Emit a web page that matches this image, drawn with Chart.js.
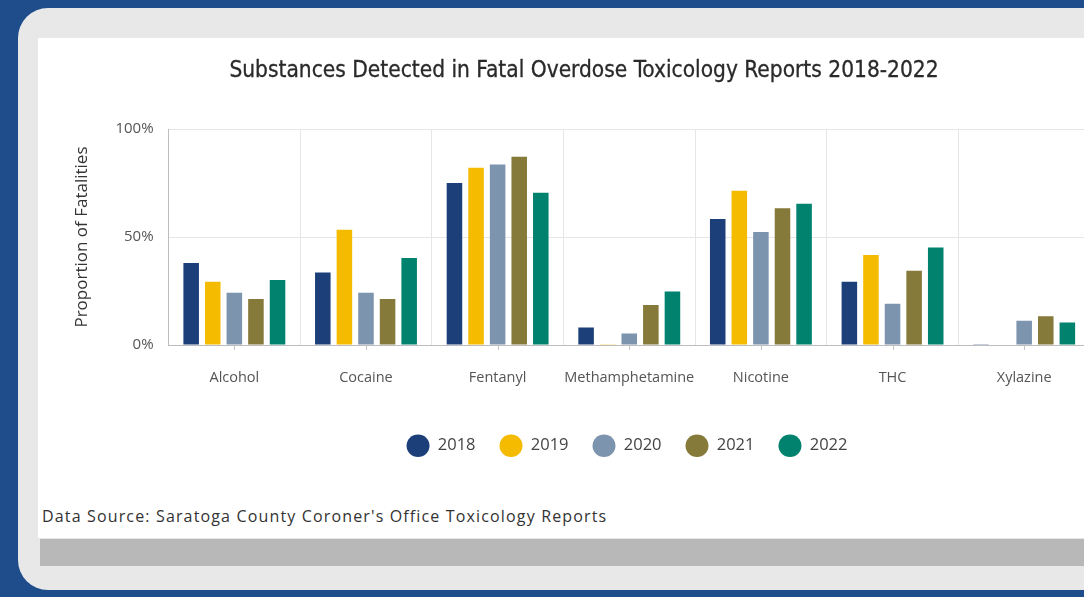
<!DOCTYPE html>
<html>
<head>
<meta charset="utf-8">
<script src="https://cdn.jsdelivr.net/npm/chart.js@4.4.1/dist/chart.umd.min.js"></script>
<style>
  html, body { margin: 0; padding: 0; }
  body { width: 1084px; height: 597px; overflow: hidden; background: #1f4d8c; position: relative; font-family: "Open Sans", sans-serif; }
  .card { position: absolute; left: 18px; top: 8px; width: 1120px; height: 582px; background: #e8e8e8; border-radius: 30px; }
  .panel { position: absolute; left: 38px; top: 38px; width: 1060px; height: 500px; background: #fff; overflow: hidden; }
  .title { position: absolute; left: 0; top: 56px; width: 1168px; text-align: center; font-family: "DejaVu Sans Condensed", "DejaVu Sans", sans-serif; font-size: 22.5px; color: #2a2a2a; -webkit-text-stroke: 0.3px #2a2a2a; }
  .source { position: absolute; left: 42px; top: 505px; font-size: 16px; letter-spacing: 1.15px; color: #333; }
  .scroll { position: absolute; left: 40px; top: 539px; width: 1060px; height: 27px; background: #b8b8b8; }
  #wrap { position: absolute; left: 0; top: 0; width: 1178px; height: 426px; }
</style>
</head>
<body>
<div class="card"></div>
<div class="panel">
  <div id="wrap"><canvas id="chart"></canvas></div>
</div>
<div class="title">Substances Detected in Fatal Overdose Toxicology Reports 2018-2022</div>
<div class="source">Data Source: Saratoga County Coroner's Office Toxicology Reports</div>
<div class="scroll"></div>
<script>
/* данные */
const categories = ['Alcohol', 'Cocaine', 'Fentanyl', 'Methamphetamine', 'Nicotine', 'THC', 'Xylazine']
const years = ['2018', '2019', '2020', '2021', '2022']
const colors = ['#1c3f7a', '#f5bb00', '#7d94ae', '#857a3a', '#00826e']
const v2018 = [38, 33.6, 75, 8.2, 58.3, 29.3, 0.4]
const v2019 = [29.3, 53.4, 82.1, 0.4, 71.4, 41.7, 0.3]
const v2020 = [24.2, 24.2, 83.6, 5.4, 52.3, 19.1, 11.3]
const v2021 = [21.3, 21.3, 87.2, 18.5, 63.3, 34.4, 13.4]
const v2022 = [30.1, 40.3, 70.5, 24.8, 65.4, 45.2, 10.5]
const yTicks = [0, 50, 100]

const series = [v2018, v2019, v2020, v2021, v2022]

// разрядка букв на канвасе
const spacing = {
  id: 'spacing',
  beforeInit: (chart) => { chart.ctx.letterSpacing = '1.2px' },
}

// короткие засечки под осью X по центру категорий
const centerTicks = {
  id: 'centerTicks',
  afterDraw: (chart) => {
    const { ctx, scales: { x } } = chart
    ctx.save()
    ctx.strokeStyle = '#c4c4c4'
    ctx.lineWidth = 1
    x.ticks.forEach((t, i) => {
      const px = Math.round(x.getPixelForTick(i)) + 0.5
      ctx.beginPath()
      ctx.moveTo(px, x.top)
      ctx.lineTo(px, x.top + 5)
      ctx.stroke()
    })
    ctx.restore()
  },
}

new Chart(document.getElementById('chart'), {
  type: 'bar',
  data: {
    labels: categories,
    datasets: years.map((y, i) => ({
      label: y,
      data: series[i],
      backgroundColor: colors[i],
      borderWidth: 0,
      categoryPercentage: 0.82,
      barPercentage: 0.72,
    })),
  },
  options: {
    responsive: true,
    maintainAspectRatio: false,
    animation: false,
    layout: { padding: { top: 91 } },
    scales: {
      x: {
        grid: { color: '#e6e6e6', offset: true, drawTicks: false },
        border: { color: '#bdbdbd' },
        ticks: {
          color: '#555',
          padding: 24,
          maxRotation: 0,
          autoSkip: false,
          font: { family: 'Open Sans', size: 14.5 },
        },
        afterFit: (axis) => { axis.height += 3 },
      },
      y: {
        min: 0,
        max: 100,
        afterBuildTicks: (axis) => { axis.ticks = yTicks.map(v => ({ value: v })) },
        grid: { color: '#e6e6e6', drawTicks: false },
        border: { color: '#bdbdbd' },
        ticks: {
          color: '#555',
          padding: 15,
          font: { family: 'Open Sans', size: 15 },
          callback: (v) => v + '%',
        },
        title: {
          display: true,
          text: 'Proportion of Fatalities',
          color: '#333',
          padding: { top: 34, bottom: 8 },
          font: { family: 'Open Sans', size: 17 },
        },
      },
      // пустое место справа
      yRight: {
        position: 'right',
        display: true,
        grid: { display: false },
        border: { display: false },
        ticks: { display: false },
        afterFit: (axis) => { axis.width = 126 },
      },
    },
    plugins: {
      legend: {
        position: 'bottom',
        labels: {
          usePointStyle: true,
          pointStyle: 'circle',
          boxHeight: 16,
          pointStyleWidth: 23,
          padding: 24,
          color: '#444',
          font: { family: 'Open Sans', size: 16.5 },
        },
      },
      tooltip: { enabled: false },
    },
  },
  plugins: [spacing, centerTicks],
})
</script>
</body>
</html>
